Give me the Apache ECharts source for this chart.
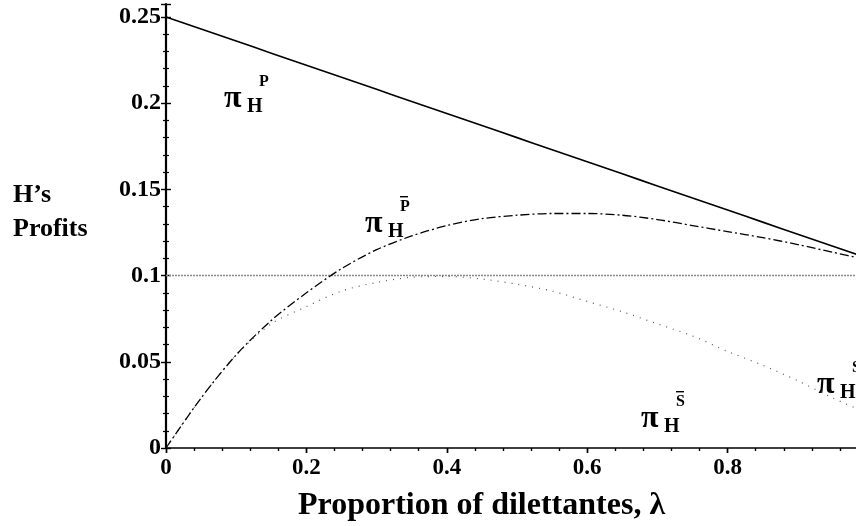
<!DOCTYPE html>
<html><head><meta charset="utf-8">
<script src="https://cdn.jsdelivr.net/npm/echarts@6/dist/echarts.min.js"></script>
<style>html,body{margin:0;padding:0;background:#fff}#c{width:856px;height:526px}</style>
</head><body><div id="c"></div>
<script>
const lambdas = [0,0.05,0.1,0.15,0.2,0.25,0.3,0.35,0.4,0.45,0.5,0.55,0.6,0.65,0.7,0.75,0.8,0.85,0.9,0.95,1.0];
const profitP    = [0.25,0.243,0.236,0.229,0.222,0.215,0.208,0.201,0.194,0.187,0.18,0.173,0.166,0.159,0.152,0.145,0.138,0.131,0.124,0.117,0.110];
const profitPbar = [0,0.029,0.054,0.074,0.090,0.104,0.115,0.123,0.129,0.133,0.135,0.136,0.136,0.135,0.1325,0.129,0.1255,0.122,0.118,0.1135,0.109];
const profitSbar = [0,0.029,0.054,0.072,0.082,0.091,0.096,0.099,0.0995,0.098,0.095,0.091,0.085,0.079,0.072,0.065,0.056,0.048,0.039,0.029,0.020];
const profitS = 0.1;
const xTicks = [0,0.2,0.4,0.6,0.8,1];
const yTicks = [0,0.05,0.1,0.15,0.2,0.25];

const pair = (xs, ys) => xs.map((x,i)=>[x,ys[i]]);
const F = 'Liberation Serif';
const chart = echarts.init(document.getElementById('c'));
const isTick = (v, arr) => arr.some(t => Math.abs(t - v) < 1e-6);

const baseX = {type:'value', min:0, max:1, interval:0.2, splitLine:{show:false}};
const baseY = {type:'value', min:0, max:0.2575, interval:0.05, splitLine:{show:false}};

function sym(x, y, sub, sup, bar) {
  const out = [
    {type:'text', left:x, top:y-27, style:{text:'π', font:`bold 32px "${F}"`, fill:'#000'}},
    {type:'text', left:x+23, top:y+4-17, style:{text:sub, font:`bold 20px "${F}"`, fill:'#000'}},
    {type:'text', left:x+35, top:y-22-14, style:{text:sup, font:`bold 16px "${F}"`, fill:'#000'}}
  ];
  if (bar) out.push({type:'rect', shape:{x:x+35, y:y-39, width:8, height:1.4}, style:{fill:'#000'}});
  return out;
}

chart.setOption({
  animation:false,
  backgroundColor:'#fff',
  grid:{left:166, right:-12, top:4, bottom:78, outerBoundsMode:'none', containLabel:false},
  xAxis:[
    Object.assign({}, baseX, {
      axisLine:{lineStyle:{color:'#000', width:1.6}},
      axisTick:{inside:false, length:5, lineStyle:{color:'#000', width:1.4}},
      minorTick:{show:true, splitNumber:5, length:3, lineStyle:{color:'#000', width:1.2}},
      axisLabel:{margin:9, color:'#000', fontFamily:F, fontWeight:'bold', fontSize:23,
        formatter:v => isTick(v, xTicks) ? String(+v.toFixed(2)) : ''}
    }),
    Object.assign({}, baseX, {
      axisLine:{show:false}, axisLabel:{show:false},
      axisTick:{inside:true, length:5, lineStyle:{color:'#000', width:1.4}},
      minorTick:{show:true, splitNumber:5, length:3, lineStyle:{color:'#000', width:1.2}}
    })
  ],
  yAxis:[
    Object.assign({}, baseY, {
      axisLine:{lineStyle:{color:'#000', width:2.2}},
      axisTick:{inside:false, length:5, lineStyle:{color:'#000', width:1.4}},
      minorTick:{show:true, splitNumber:5, length:3, lineStyle:{color:'#000', width:1.2}},
      axisLabel:{margin:5, color:'#000', fontFamily:F, fontWeight:'bold', fontSize:24,
        formatter:v => isTick(v, yTicks) ? String(+v.toFixed(2)) : ''}
    }),
    Object.assign({}, baseY, {
      position:'left',
      axisLine:{show:false}, axisLabel:{show:false},
      axisTick:{inside:true, length:5, lineStyle:{color:'#000', width:1.4}},
      minorTick:{show:true, splitNumber:5, length:3, lineStyle:{color:'#000', width:1.2}}
    })
  ],
  series:[
    {type:'line', data:[[0,profitS],[1,profitS]], symbol:'none',
     lineStyle:{color:'#8a8a8a', width:1.4, type:[2,1]}},
    {type:'line', data:pair(lambdas, profitSbar), smooth:0.3, symbol:'none',
     lineStyle:{color:'#555', width:1.2, type:[1,6]}},
    {type:'line', data:pair(lambdas, profitPbar), smooth:0.3, symbol:'none',
     lineStyle:{color:'#000', width:1.3, type:[9,3,2,3]}},
    {type:'line', data:pair(lambdas, profitP), smooth:true, symbol:'none',
     lineStyle:{color:'#000', width:1.6}}
  ],
  graphic:[
    {type:'text', left:13, top:178, style:{text:"H’s\nProfits", font:`bold 26px "${F}"`, fill:'#000', lineHeight:34}},
    {type:'text', left:298, top:490, style:{text:'Proportion of dilettantes, λ', font:`bold 32px "${F}"`, fill:'#000'}}
  ].concat(sym(224, 110, 'H', 'P', false))
   .concat(sym(365, 235, 'H', 'P', true))
   .concat(sym(641, 430, 'H', 'S', true))
   .concat(sym(817, 396, 'H', 'S', false))
});
</script></body></html>
